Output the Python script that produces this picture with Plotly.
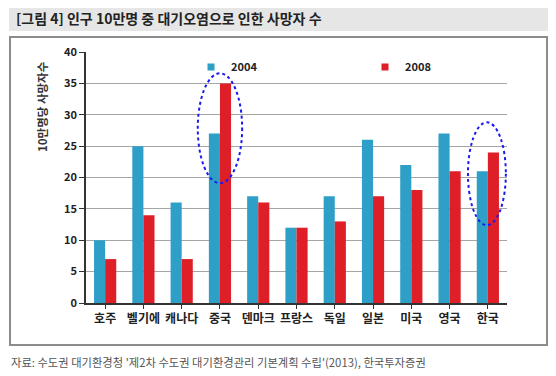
import plotly.graph_objects as go

categories = ["호주", "벨기에", "캐나다", "중국", "덴마크", "프랑스", "독일", "일본", "미국", "영국", "한국"]
values_2004 = [10, 25, 16, 27, 17, 12, 17, 26, 22, 27, 21]
values_2008 = [7, 14, 7, 35, 16, 12, 13, 17, 18, 21, 24]
y_ticks = [0, 5, 10, 15, 20, 25, 30, 35, 40]

FONT = "Noto Sans CJK KR"
C2004 = "#2E9FC6"
C2008 = "#DE1F27"

# page has an 8px body margin; work in reference (page) pixels
OFF = 8
W, H = 556 - OFF, 376 - OFF
PL, PT, PR, PB = 86, 52, 507, 303   # plot area in page pixels
L, T = PL - OFF, PT - OFF
R = W - (PR - OFF)
B = H - (PB - OFF)
PW, PH = PR - PL, PB - PT


def px(x):
    return (x - PL) / PW


def py(y):
    return (PB - y) / PH


idx = list(range(len(categories)))
fig = go.Figure()
fig.add_trace(go.Bar(x=idx, y=values_2004, name="2004", showlegend=False,
                     marker=dict(color=C2004, line=dict(width=0))))
fig.add_trace(go.Bar(x=idx, y=values_2008, name="2008", showlegend=False,
                     marker=dict(color=C2008, line=dict(width=0))))
# legend entries with small square keys
fig.add_trace(go.Scatter(x=[None], y=[None], mode="markers", name="<b>2004</b>",
                         marker=dict(symbol="square", size=7, color=C2004)))
fig.add_trace(go.Scatter(x=[None], y=[None], mode="markers", name="<b>2008</b>",
                         marker=dict(symbol="square", size=7, color=C2008)))

shapes = [
    dict(type="rect", xref="paper", yref="paper", x0=px(9), x1=px(548), y0=py(31), y1=py(4),
         fillcolor="#E6E6E6", line=dict(width=0), layer="below"),
    dict(type="rect", xref="paper", yref="paper", x0=px(10), x1=px(547), y0=py(345), y1=py(37),
         fillcolor="rgba(0,0,0,0)", line=dict(color="#8C8C8C", width=2), layer="below"),
    dict(type="circle", xref="x", yref="y", x0=3 - 0.58, x1=3 + 0.58, y0=19.1, y1=36.6,
         line=dict(color="#1A1AF0", width=2, dash="dot")),
    dict(type="circle", xref="x", yref="y", x0=10 - 0.52, x1=10 + 0.47, y0=12.4, y1=28.8,
         line=dict(color="#1A1AF0", width=2, dash="dot")),
]

annotations = [
    dict(text="<b>[그림 4] 인구 10만명 중 대기오염으로 인한 사망자 수</b>", xref="paper", yref="paper",
         x=px(14), y=py(18), xanchor="left", yanchor="middle", showarrow=False,
         font=dict(family=FONT, size=14, color="#222222")),
    dict(text="<b>10만명당 사망자수</b>", xref="paper", yref="paper", x=px(42), y=py(107),
         xanchor="center", yanchor="middle", textangle=-90, showarrow=False,
         font=dict(family=FONT, size=11.5, color="#333333")),
    dict(text="자료: 수도권 대기환경청 '제2차 수도권 대기환경관리 기본계획 수립'(2013), 한국투자증권",
         xref="paper", yref="paper", x=px(9), y=py(362), xanchor="left", yanchor="middle",
         showarrow=False, font=dict(family=FONT, size=11.3, color="#555555")),
]

fig.update_layout(
    width=W, height=H,
    margin=dict(l=L, r=R, t=T, b=B, autoexpand=False),
    paper_bgcolor="white", plot_bgcolor="white",
    barmode="group", bargap=0.42, bargroupgap=0,
    showlegend=True,
    legend=dict(orientation="h", x=px(191), y=py(67), xanchor="left", yanchor="middle",
                entrywidth=129, entrywidthmode="pixels", bgcolor="rgba(0,0,0,0)",
                font=dict(family=FONT, size=11, color="#222222"), itemwidth=30),
    shapes=shapes, annotations=annotations,
    xaxis=dict(tickmode="array", tickvals=idx, ticktext=["<b>%s</b>" % c for c in categories],
               range=[-0.5, len(categories) - 0.5], showgrid=False,
               showline=True, linecolor="#333333", linewidth=1.5,
               ticks="outside", ticklen=4, tickcolor="#333333", tickson="boundaries",
               tickfont=dict(family=FONT, size=12, color="#222222")),
    yaxis=dict(range=[0, 40], tickvals=y_ticks, ticktext=["<b>%d</b>" % v for v in y_ticks],
               showgrid=True, gridcolor="#A6A6A6", gridwidth=1,
               showline=True, linecolor="#333333", linewidth=1.5,
               ticks="outside", ticklen=5, tickcolor="#333333", zeroline=False,
               tickfont=dict(family=FONT, size=11, color="#222222")),
    font=dict(family=FONT),
)

fig.write_html("out.html")
